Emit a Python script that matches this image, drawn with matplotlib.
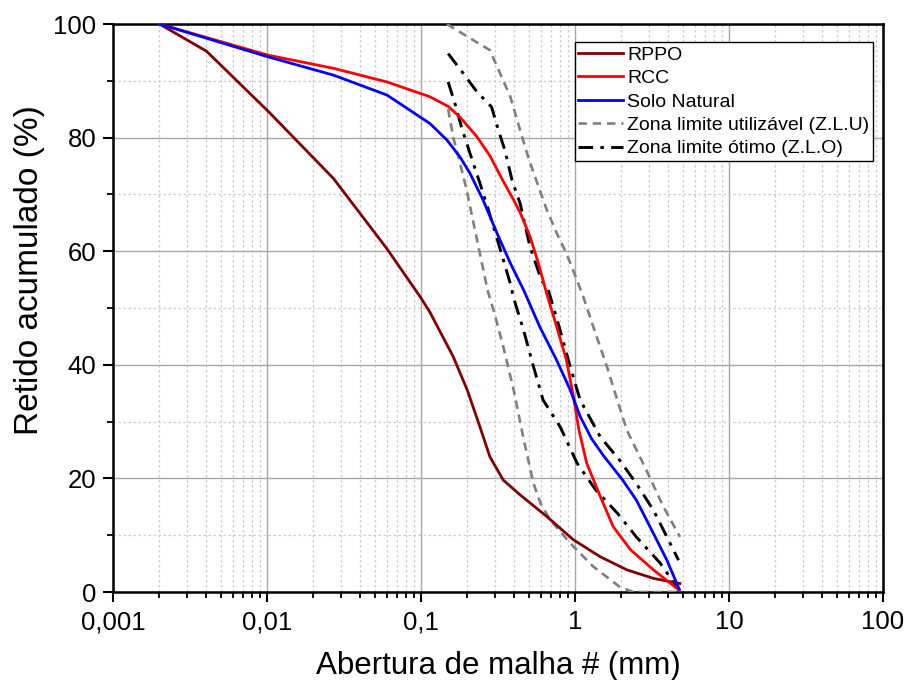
import matplotlib
matplotlib.use("Agg")
import matplotlib.pyplot as plt
from matplotlib.ticker import LogLocator, FixedLocator, FixedFormatter, MultipleLocator

plt.rcParams['font.family'] = ['Liberation Sans', 'DejaVu Sans']

# curves (abertura mm, retido %)
rppo_x = [0.002, 0.00405, 0.0102, 0.027, 0.0598, 0.0986, 0.114, 0.162, 0.2, 0.241, 0.28,
          0.342, 0.44, 0.655, 0.975, 1.46, 2.17, 3.23, 4.8]
rppo_y = [100, 95.2, 84.6, 72.8, 60.5, 52.0, 49.3, 41.4, 35.5, 29.1, 23.8,
          19.7, 17.1, 13.3, 9.2, 6.2, 3.9, 2.4, 1.5]

rcc_x = [0.002, 0.0102, 0.027, 0.06, 0.114, 0.15, 0.179, 0.23, 0.28, 0.342, 0.40, 0.44,
         0.51, 0.578, 0.655, 0.76, 0.88, 0.975, 1.06, 1.19, 1.46, 1.77, 2.3, 3.23, 4.75]
rcc_y = [100, 94.5, 92.2, 89.8, 87.2, 85.5, 83.6, 80.2, 76.8, 72.3, 69.0, 66.8,
         62.6, 57.9, 52.5, 46.7, 40.8, 34.5, 28.5, 22.7, 16.8, 11.5, 7.4, 3.9, 0.3]

solo_x = [0.002, 0.0102, 0.027, 0.06, 0.114, 0.147, 0.179, 0.208, 0.253, 0.311, 0.38,
          0.463, 0.59, 0.76, 0.93, 1.08, 1.28, 1.53, 2.04, 2.5, 3.23, 3.95, 4.75]
solo_y = [100, 94.2, 91.0, 87.5, 82.5, 79.6, 76.6, 73.7, 69.0, 63.2, 57.9,
          53.2, 46.7, 40.8, 35.6, 30.9, 27.0, 24.0, 19.7, 16.2, 10.3, 5.6, 0.5]

zlu_sup_x = [0.147, 0.208, 0.28, 0.326, 0.38, 0.44, 0.50, 0.56, 0.655, 0.76, 0.88,
             1.03, 1.13, 1.36, 1.61, 1.88, 2.17, 2.9, 3.75, 4.8]
zlu_sup_y = [100, 97.5, 95.4, 91.3, 87.2, 81.3, 76.3, 72.5, 67.3, 63.2, 59.6,
             54.9, 52.0, 45.5, 39.7, 33.8, 28.5, 21.5, 15.0, 9.7]

zlu_inf_x = [0.15, 0.162, 0.179, 0.197, 0.217, 0.241, 0.27, 0.30, 0.342, 0.40, 0.463,
             0.537, 0.60, 0.69, 0.93, 1.31, 1.95, 2.39, 4.75]
zlu_inf_y = [85, 80.0, 75.5, 71.0, 65.5, 59.6, 53.2, 49.0, 43.2, 35.5, 27.0,
             19.1, 15.5, 12.7, 8.6, 4.5, 0.9, 0, 0]

zlo_sup_x = [0.150, 0.188, 0.230, 0.287, 0.318, 0.35, 0.39, 0.44, 0.51, 0.605, 0.67,
             0.80, 0.93, 1.08, 1.46, 1.95, 2.5, 3.23, 3.95, 4.7]
zlo_sup_y = [94.8, 91.3, 88.1, 85.4, 81.3, 77.8, 72.5, 68.4, 60.8, 54.9, 53.2,
             46.1, 39.7, 33.8, 27.3, 23.2, 19.1, 14.4, 9.7, 5.6]

zlo_inf_x = [0.150, 0.166, 0.183, 0.208, 0.241, 0.27, 0.318, 0.38, 0.40, 0.463, 0.537,
             0.62, 0.80, 0.86, 1.03, 1.36, 1.88, 2.5, 3.57, 4.7]
zlo_inf_y = [89.8, 86.0, 81.9, 77.2, 72.0, 67.8, 61.4, 54.3, 51.7, 46.1, 39.7,
             33.8, 29.1, 27.3, 22.7, 18.0, 13.9, 9.7, 5.1, 0.4]

xtick_vals = [0.001, 0.01, 0.1, 1, 10, 100]
xtick_labels = ['0,001', '0,01', '0,1', '1', '10', '100']

fig = plt.figure(figsize=(9.08, 6.8), dpi=100)
ax = fig.add_axes([0.1245, 0.1294, 0.848, 0.8353])

ax.plot(rppo_x, rppo_y, color='#800000', lw=2.0, label='RPPO', zorder=4)
ax.plot(rcc_x, rcc_y, color='#ff0000', lw=2.0, label='RCC', zorder=4)
ax.plot(solo_x, solo_y, color='#0000ff', lw=2.0, label='Solo Natural', zorder=5)
ax.plot(zlu_sup_x, zlu_sup_y, color='#808080', lw=1.9, ls=(0, (3.2, 2.2)),
        label='Zona limite utiliz\u00e1vel (Z.L.U)', zorder=3)
ax.plot(zlu_inf_x, zlu_inf_y, color='#808080', lw=1.9, ls=(0, (3.2, 2.2)), zorder=3)
ax.plot(zlo_sup_x, zlo_sup_y, color='black', lw=2.1, ls=(0, (5, 2.5, 1.2, 2.5)),
        label='Zona limite \u00f3timo (Z.L.O)', zorder=3)
ax.plot(zlo_inf_x, zlo_inf_y, color='black', lw=2.1, ls=(0, (5, 2.5, 1.2, 2.5)), zorder=3)

ax.set_xscale('log')
ax.set_xlim(0.001, 100)
ax.set_ylim(0, 100)

ax.xaxis.set_major_locator(FixedLocator(xtick_vals))
ax.xaxis.set_major_formatter(FixedFormatter(xtick_labels))
ax.xaxis.set_minor_locator(LogLocator(base=10, subs=range(2, 10), numticks=20))
ax.yaxis.set_major_locator(MultipleLocator(20))
ax.yaxis.set_minor_locator(MultipleLocator(10))

ax.grid(which='major', color='#a8a8a8', lw=1.0, ls='-', zorder=0)
ax.grid(which='minor', color='#cccccc', lw=0.9, ls=(0, (2, 2)), zorder=0)
ax.set_axisbelow(True)

ax.tick_params(which='major', direction='out', length=7, width=1.5, labelsize=18.5,
               top=False, right=False)
ax.tick_params(which='minor', direction='out', length=4, width=1.3, top=False, right=False)
ax.tick_params(axis='x', pad=6)
ax.tick_params(axis='y', pad=5)
for s in ax.spines.values():
    s.set_linewidth(1.8)

ax.set_xlabel('Abertura de malha # (mm)', fontsize=22.5, labelpad=12)
ax.set_ylabel('Retido acumulado (%)', fontsize=24)
ax.yaxis.set_label_coords(-0.088, 0.567)

leg = ax.legend(loc='upper right', bbox_to_anchor=(0.987, 0.968), fontsize=14,
                frameon=True, fancybox=False, framealpha=1, edgecolor='black',
                handlelength=2.3, handletextpad=0.2, labelspacing=0.3,
                borderpad=0.2, borderaxespad=0)
leg.get_frame().set_linewidth(1.0)

fig.savefig('out.png', dpi=100)
